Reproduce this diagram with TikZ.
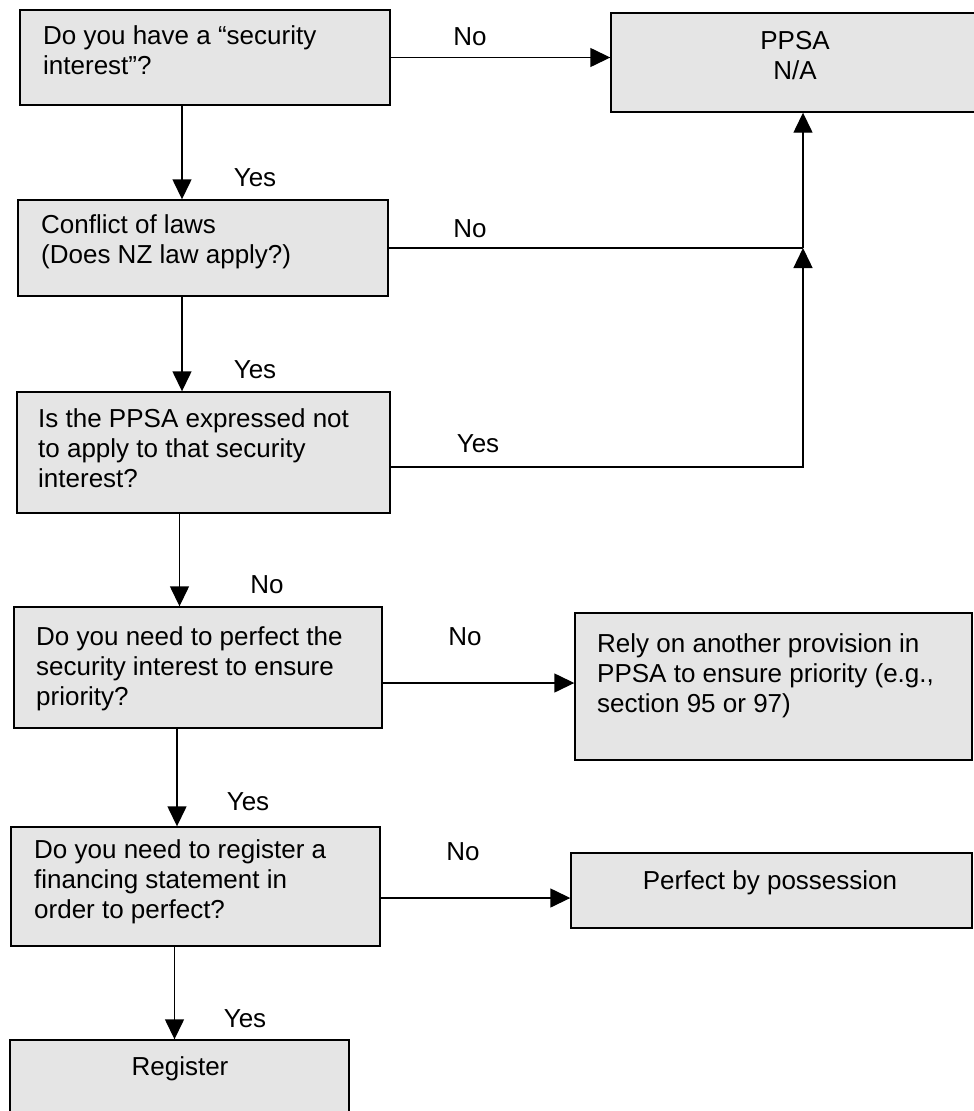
\documentclass[tikz,border=0pt]{standalone}
\usepackage{fontspec}
\setmainfont{Liberation Sans}
\usetikzlibrary{arrows.meta,calc}
\begin{document}
\begin{tikzpicture}[x=1pt,y=-1pt,
  box/.style={draw=black,line width=1.4pt,fill=black!10,rectangle,inner sep=0pt},
  txt/.style={inner sep=0pt,align=left,anchor=north west,font=\fontsize{26}{30}\selectfont},
  ctxt/.style={inner sep=0pt,align=center,font=\fontsize{26}{30}\selectfont},
  lbl/.style={inner sep=0pt,anchor=base,font=\fontsize{26}{30}\selectfont},
  conn/.style={line width=1.4pt},
  arr/.style={line width=1.4pt,-{Triangle[length=20pt,width=19pt]}}]
\useasboundingbox (0,0) rectangle (974,1111);
\clip (0,0) rectangle (974,1111);
% boxes
\node[box,minimum width=370pt,minimum height=95pt] (b1) at (205,57.5) {};
\node[box,minimum width=370pt,minimum height=96pt] (b2) at (203,248) {};
\node[box,minimum width=373pt,minimum height=121pt] (b3) at (203.5,452.5) {};
\node[box,minimum width=368pt,minimum height=121pt] (b4) at (198,667.5) {};
\node[box,minimum width=369pt,minimum height=119pt] (b5) at (195.5,886.5) {};
\node[box,minimum width=339pt,minimum height=90pt] (reg) at (179.5,1085) {};
\node[box,minimum width=374pt,minimum height=99pt] (ppsa) at (798,62.5) {};
\node[box,minimum width=397pt,minimum height=147pt] (rely) at (773.5,686.5) {};
\node[box,minimum width=401pt,minimum height=75pt] (perf) at (771.5,890.5) {};
% texts
\node[txt] (t1) at (43,25) {Do you have a “security\\interest”?};
\node[txt] (t2) at (41,214) {Conflict of laws\\(Does NZ law apply?)};
\node[txt] (t3) at (38,408) {Is the PPSA expressed not\\to apply to that security\\interest?};
\node[txt] (t4) at (36,626) {Do you need to perfect the\\security interest to ensure\\priority?};
\node[txt] (t5) at (34,839) {Do you need to register a\\financing statement in\\order to perfect?};
\node[txt] (trely) at (597,633) {Rely on another provision in\\PPSA to ensure priority (e.g.,\\section 95 or 97)};
\node[ctxt,anchor=north] (tppsa) at (795,31) {PPSA\\N/A};
\node[ctxt,anchor=base] (tperf) at (770,889) {Perfect by possession};
\node[ctxt,anchor=base] (treg) at (180,1075) {Register};
% labels
\node[lbl] (l1) at (470,45) {No};
\node[lbl] (l2) at (255,186) {Yes};
\node[lbl] (l3) at (470,237) {No};
\node[lbl] (l4) at (255,378) {Yes};
\node[lbl] (l5) at (478,452) {Yes};
\node[lbl] (l6) at (267,593) {No};
\node[lbl] (l7) at (465,645) {No};
\node[lbl] (l8) at (248,810) {Yes};
\node[lbl] (l9) at (463,860) {No};
\node[lbl] (l10) at (245,1027) {Yes};
% connectors
\coordinate (jx) at (803,0);
\draw[arr] (b1.east) -- (b1.east -| ppsa.west);
\draw[conn] (b2.east) -- (b2.east -| jx) coordinate (j1);
\draw[arr] (j1) -- (j1 |- ppsa.south);
\draw[arr] ([yshift=-14.5pt]b3.east) -| (j1);
\draw[arr] ([xshift=-23pt]b1.south) -- ([xshift=-23pt]b1.south |- b2.north);
\draw[arr] ([xshift=-21pt]b2.south) -- ([xshift=-21pt]b2.south |- b3.north);
\draw[arr] ([xshift=-24pt]b3.south) -- ([xshift=-24pt]b3.south |- b4.north);
\draw[arr] ([yshift=-15.5pt]b4.east) -- ([yshift=-15.5pt]b4.east -| rely.west);
\draw[arr] ([xshift=-21pt]b4.south) -- ([xshift=-21pt]b4.south |- b5.north);
\draw[arr] ([yshift=-11.5pt]b5.east) -- ([yshift=-11.5pt]b5.east -| perf.west);
\draw[arr] ([xshift=-21pt]b5.south) -- ([xshift=-21pt]b5.south |- reg.north);
\end{tikzpicture}
\end{document}
